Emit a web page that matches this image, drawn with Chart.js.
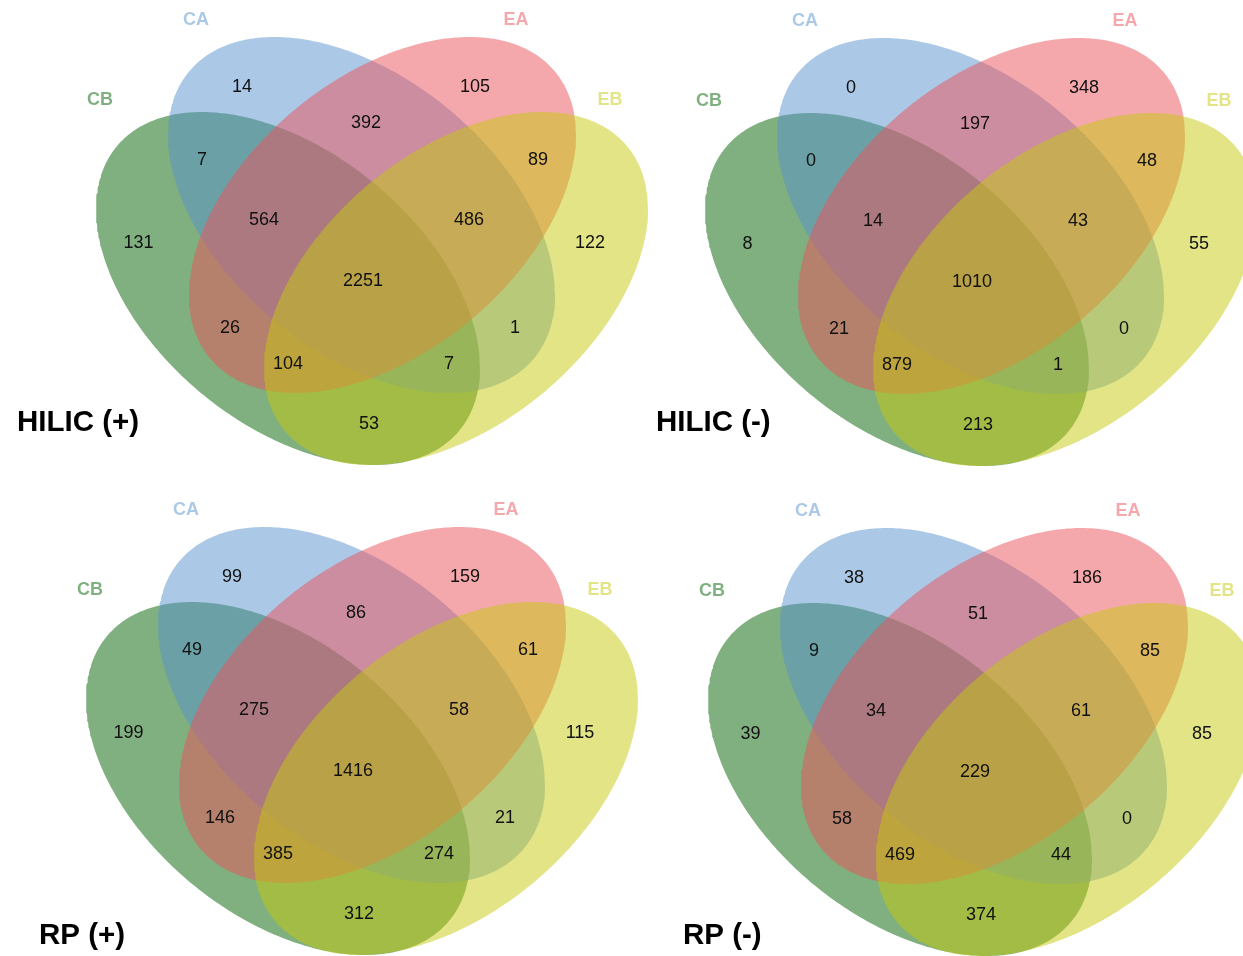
<!DOCTYPE html>
<html>
<head>
<meta charset="utf-8">
<title>Four-way Venn diagrams</title>
<script src="https://cdn.jsdelivr.net/npm/chart.js@4.4.1/dist/chart.umd.min.js"></script>
<style>
  html, body { margin: 0; padding: 0; background: #ffffff; }
  #wrap { position: relative; width: 1243px; height: 956px; overflow: hidden; }
  canvas { display: block; }
</style>
</head>
<body>
<div id="wrap"><canvas id="venn" width="1243" height="956"></canvas></div>
<script>
// ---- data ----------------------------------------------------------------
// Set names, in drawing order (bottom to top)
const setNames = ['CB', 'CA', 'EA', 'EB'];

// Region keys; every panel's counts follow this order
const regionKeys = [
  'CA', 'EA', 'CA&CB', 'CA&EA', 'EA&EB',
  'CB', 'CB&CA&EA', 'CA&EA&EB', 'EB',
  'CB&CA&EA&EB',
  'CB&EA', 'CA&EB', 'CB&EA&EB', 'CB&CA&EB', 'CB&EB'
];

const panelTitles = ['HILIC (+)', 'HILIC (-)', 'RP (+)', 'RP (-)'];

const hilicPosCounts = [14, 105, 7, 392, 89, 131, 564, 486, 122, 2251, 26, 1, 104, 7, 53];
const hilicNegCounts = [0, 348, 0, 197, 48, 8, 14, 43, 55, 1010, 21, 0, 879, 1, 213];
const rpPosCounts    = [99, 159, 49, 86, 61, 199, 275, 58, 115, 1416, 146, 21, 385, 274, 312];
const rpNegCounts    = [38, 186, 9, 51, 85, 39, 34, 61, 85, 229, 58, 0, 469, 44, 374];

const panelCounts = [hilicPosCounts, hilicNegCounts, rpPosCounts, rpNegCounts];

// ---- layout & style ------------------------------------------------------
// Panel origins (page pixels)
const panelOrigins = [
  { x: 0,   y: 0 },
  { x: 609, y: 1 },
  { x: -10, y: 490 },
  { x: 612, y: 491 }
];
// Title anchors (left, baseline) in page pixels
const titleAnchors = [
  { x: 17,  y: 431 },
  { x: 656, y: 431 },
  { x: 39,  y: 944 },
  { x: 683, y: 944 }
];

// Ellipse geometry in panel-local pixels: centre, half extents, tilt correlation
const ellipseGeom = {
  CB: { cx: 288,   cy: 288.5, hx: 192,   hy: 176.5, rho:  0.45 },
  CA: { cx: 361.5, cy: 215,   hx: 193.5, hy: 178,   rho:  0.45 },
  EA: { cx: 382.5, cy: 215,   hx: 193.5, hy: 178,   rho: -0.45 },
  EB: { cx: 456,   cy: 288.5, hx: 192,   hy: 176.5, rho: -0.45 }
};

const setColors = {
  CB: [1, 97, 1],
  CA: [87, 147, 205],
  EA: [235, 81, 89],
  EB: [197, 201, 13]
};
const fillAlpha = 0.5;

// Set-name label anchors (panel-local centres)
const setLabelPos = {
  CA: { x: 196, y: 19 },
  EA: { x: 516, y: 19 },
  CB: { x: 100, y: 98.5 },
  EB: { x: 610, y: 98.5 }
};

// Region label anchors (panel-local centres), same order as regionKeys
const regionLabelPos = [
  [242, 86], [475, 86], [202, 159], [366, 122], [538, 159],
  [138.5, 242], [264, 219], [469, 219], [590, 242],
  [363, 280],
  [230, 327], [515, 327], [288, 363], [449, 363], [369, 423]
];

const FONT = '"Liberation Sans", Arial, Helvetica, sans-serif';

function rgba(c, a) { return `rgba(${c[0]},${c[1]},${c[2]},${a})`; }

function ellipsePoints(g, o) {
  const n = 360, pts = [];
  const s = Math.sqrt(1 - g.rho * g.rho);
  for (let i = 0; i <= n; i++) {
    const t = 2 * Math.PI * i / n;
    const u = Math.cos(t);
    const v = g.rho * Math.cos(t) + s * Math.sin(t);
    pts.push({ x: o.x + g.cx + g.hx * u, y: o.y + g.cy + g.hy * v });
  }
  return pts;
}

const datasets = [];
panelOrigins.forEach((o, p) => {
  setNames.forEach((name, k) => {
    datasets.push({
      label: panelTitles[p] + ' ' + name,
      data: ellipsePoints(ellipseGeom[name], o),
      showLine: true,
      fill: 'shape',
      backgroundColor: rgba(setColors[name], fillAlpha),
      borderWidth: 0,
      borderColor: 'rgba(0,0,0,0)',
      pointRadius: 0,
      pointHoverRadius: 0,
      tension: 0,
      clip: false,
      order: setNames.length - k
    });
  });
});

// Draws set names, region counts and panel titles on top of the ellipses
const vennText = {
  id: 'vennText',
  afterDatasetsDraw(chart) {
    const { ctx, scales: { x, y } } = chart;
    ctx.save();
    panelOrigins.forEach((o, p) => {
      // set names
      ctx.font = 'bold 18px ' + FONT;
      ctx.textAlign = 'center';
      ctx.textBaseline = 'alphabetic';
      setNames.forEach(name => {
        const a = setLabelPos[name];
        ctx.fillStyle = rgba(setColors[name], fillAlpha);
        ctx.fillText(name, x.getPixelForValue(o.x + a.x), y.getPixelForValue(o.y + a.y) + 6.4);
      });
      // region counts
      ctx.font = '18px ' + FONT;
      ctx.fillStyle = '#111111';
      panelCounts[p].forEach((val, i) => {
        const a = regionLabelPos[i];
        ctx.fillText(String(val), x.getPixelForValue(o.x + a[0]), y.getPixelForValue(o.y + a[1]) + 6.4);
      });
      // title
      ctx.font = 'bold 29.5px ' + FONT;
      ctx.textAlign = 'left';
      ctx.fillStyle = '#000000';
      const t = titleAnchors[p];
      ctx.fillText(panelTitles[p], x.getPixelForValue(t.x), y.getPixelForValue(t.y));
    });
    ctx.restore();
  }
};

new Chart(document.getElementById('venn'), {
  type: 'scatter',
  data: { datasets },
  options: {
    responsive: false,
    animation: false,
    events: [],
    layout: { padding: 0 },
    scales: {
      x: { type: 'linear', min: 0, max: 1243, display: false },
      y: { type: 'linear', min: 0, max: 956, reverse: true, display: false }
    },
    plugins: {
      legend: { display: false },
      tooltip: { enabled: false },
      filler: { propagate: false }
    }
  },
  plugins: [vennText]
});
</script>
</body>
</html>
